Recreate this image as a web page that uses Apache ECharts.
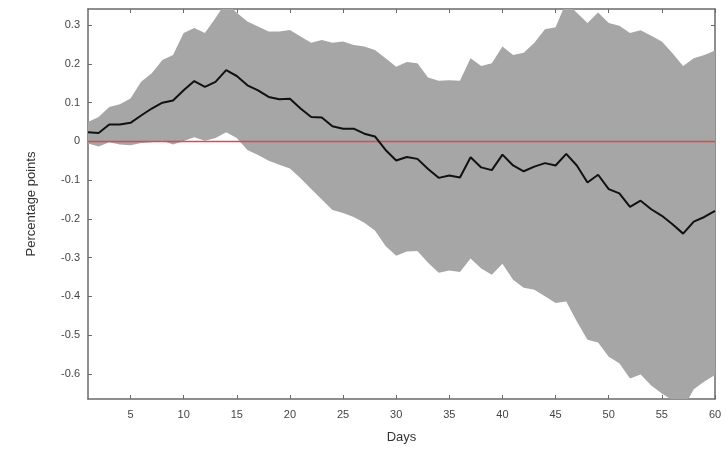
<!DOCTYPE html>
<html>
<head>
<meta charset="utf-8">
<script src="https://cdn.jsdelivr.net/npm/echarts@6/dist/echarts.min.js"></script>
<style>html,body{margin:0;padding:0;background:#fff}#c{width:726px;height:450px}</style>
</head>
<body>
<div id="c"></div>
<script>
const days = Array.from({length: 60}, (_, i) => i + 1);
const response = [0.024,0.022,0.044,0.044,0.048,0.067,0.085,0.100,0.106,0.132,
  0.156,0.141,0.154,0.184,0.169,0.145,0.132,0.115,0.109,0.110,
  0.085,0.063,0.062,0.039,0.033,0.033,0.020,0.013,-0.022,-0.049,
  -0.040,-0.045,-0.071,-0.094,-0.088,-0.093,-0.041,-0.067,-0.074,-0.034,
  -0.062,-0.077,-0.065,-0.056,-0.062,-0.032,-0.062,-0.106,-0.086,-0.123,
  -0.134,-0.169,-0.153,-0.175,-0.192,-0.214,-0.238,-0.207,-0.195,-0.179];
const upper = [0.050,0.063,0.089,0.096,0.111,0.154,0.176,0.210,0.223,0.280,
  0.293,0.280,0.319,0.360,0.332,0.310,0.297,0.284,0.284,0.288,
  0.271,0.255,0.262,0.255,0.258,0.249,0.245,0.236,0.215,0.193,
  0.205,0.202,0.165,0.157,0.158,0.157,0.215,0.195,0.202,0.245,
  0.223,0.229,0.255,0.290,0.295,0.360,0.332,0.306,0.333,0.306,
  0.299,0.280,0.287,0.273,0.258,0.228,0.195,0.215,0.223,0.235];
const lower = [-0.005,-0.013,-0.002,-0.008,-0.010,-0.004,-0.002,0.002,-0.008,0.001,
  0.011,0.002,0.009,0.024,0.009,-0.022,-0.035,-0.050,-0.060,-0.070,
  -0.095,-0.123,-0.150,-0.177,-0.185,-0.195,-0.210,-0.230,-0.270,-0.295,
  -0.284,-0.283,-0.313,-0.339,-0.333,-0.337,-0.302,-0.328,-0.344,-0.316,
  -0.357,-0.378,-0.383,-0.400,-0.417,-0.413,-0.465,-0.512,-0.519,-0.556,
  -0.573,-0.612,-0.602,-0.630,-0.651,-0.668,-0.690,-0.640,-0.620,-0.603];
const xTicks = [5,10,15,20,25,30,35,40,45,50,55,60];
const yTicks = [-0.6,-0.5,-0.4,-0.3,-0.2,-0.1,0,0.1,0.2,0.3];

const pairs = arr => arr.map((v, i) => [days[i], v]);

const axisCol = '#6a6a6a';
const labelStyle = {color: '#444444', fontSize: 11, fontFamily: 'Liberation Sans, Arial, sans-serif'};

function renderBand(params, api) {
  if (params.dataIndex !== 0) return null;
  const pts = [];
  for (let i = 0; i < days.length; i++) pts.push(api.coord([days[i], upper[i]]));
  for (let i = days.length - 1; i >= 0; i--) pts.push(api.coord([days[i], lower[i]]));
  return {
    type: 'polygon',
    shape: {points: pts},
    style: {fill: '#a6a6a6', stroke: null}
  };
}

const chart = echarts.init(document.getElementById('c'), null, {renderer: 'canvas'});
chart.setOption({
  animation: false,
  backgroundColor: '#ffffff',
  grid: {left: 88, right: 11, top: 9, bottom: 51, containLabel: false},
  xAxis: [{
    type: 'value', min: 1, max: 60, position: 'bottom',
    name: 'Days', nameLocation: 'middle', nameGap: 32,
    nameTextStyle: {color: '#333', fontSize: 13, fontFamily: 'Liberation Sans, Arial, sans-serif'},
    axisLine: {show: true, onZero: false, lineStyle: {color: axisCol, width: 1.5}},
    axisTick: {show: true, inside: true, length: 4, customValues: xTicks, lineStyle: {color: axisCol}},
    axisLabel: Object.assign({customValues: xTicks, margin: 10}, labelStyle),
    splitLine: {show: false}
  }, {
    type: 'value', min: 1, max: 60, position: 'top',
    axisLine: {show: true, onZero: false, lineStyle: {color: axisCol, width: 1.5}},
    axisTick: {show: true, inside: true, length: 4, customValues: xTicks, lineStyle: {color: axisCol}},
    axisLabel: {show: false},
    splitLine: {show: false}
  }],
  yAxis: [{
    type: 'value', min: -0.665, max: 0.342, position: 'left',
    name: 'Percentage points', nameLocation: 'middle', nameGap: 50, nameRotate: 90,
    nameTextStyle: {color: '#333', fontSize: 13, fontFamily: 'Liberation Sans, Arial, sans-serif'},
    axisLine: {show: true, onZero: false, lineStyle: {color: axisCol, width: 1.5}},
    axisTick: {show: true, inside: true, length: 4, customValues: yTicks, lineStyle: {color: axisCol}},
    axisLabel: Object.assign({customValues: yTicks, margin: 8, formatter: v => String(Math.round(v * 10) / 10)}, labelStyle),
    splitLine: {show: false}
  }, {
    type: 'value', min: -0.665, max: 0.342, position: 'right',
    axisLine: {show: true, onZero: false, lineStyle: {color: axisCol, width: 1.5}},
    axisTick: {show: true, inside: true, length: 4, customValues: yTicks, lineStyle: {color: axisCol}},
    axisLabel: {show: false},
    splitLine: {show: false}
  }],
  series: [{
    name: 'band', type: 'custom', renderItem: renderBand, clip: true,
    data: pairs(upper), silent: true, z: 1
  }, {
    name: 'zero', type: 'line', data: days.map(d => [d, 0]),
    symbol: 'none', lineStyle: {color: '#e0484c', width: 1.6}, silent: true, z: 2
  }, {
    name: 'response', type: 'line', data: pairs(response),
    symbol: 'none', lineStyle: {color: '#111111', width: 2}, silent: true, z: 3
  }]
});
</script>
</body>
</html>
